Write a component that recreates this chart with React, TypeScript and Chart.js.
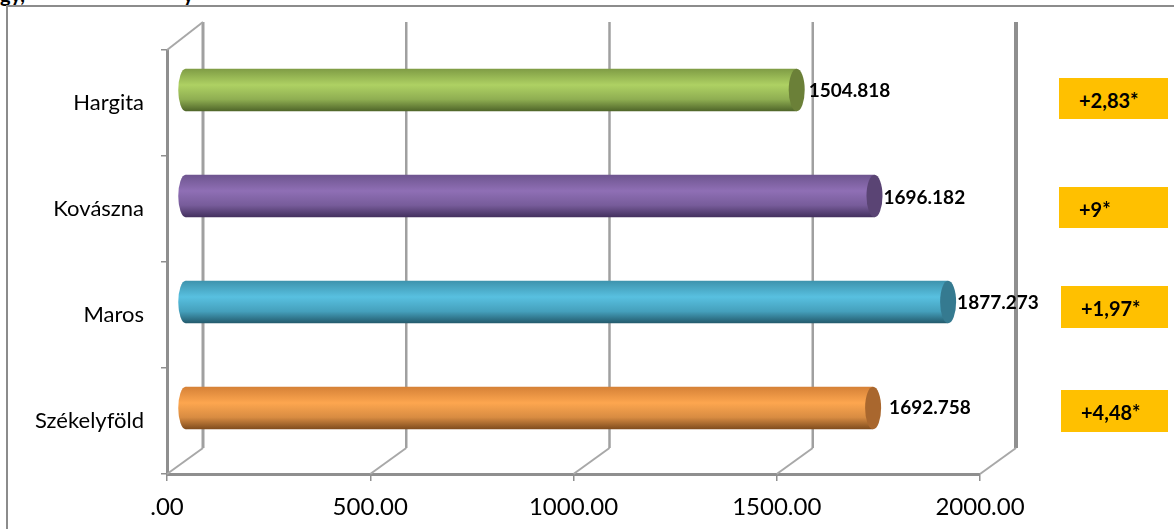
import React, { useEffect, useRef } from "react";
import { Chart, registerables } from "chart.js";

Chart.register(...registerables);

const categories = ["Hargita", "Kovászna", "Maros", "Székelyföld"];
const values = [1504.818, 1696.182, 1877.273, 1692.758];
const changes = ["+2,83*", "+9*", "+1,97*", "+4,48*"];
const axisTicks = [0, 500, 1000, 1500, 2000];

const gradients = [
  ["#7f9c45", "#aed163", "#8fae52", "#4f6529"],
  ["#6e558f", "#8f6fb5", "#775c9a", "#43305e"],
  ["#3e93ad", "#58c0e0", "#45a0bc", "#235a6c"],
  ["#d58137", "#fda64f", "#d88c42", "#7f4c1d"],
];
const capColors = ["#6b8038", "#5a4474", "#357a90", "#a9672e"];

const FONT = "Lato, 'Open Sans', sans-serif";
const DEPTH_X = 36;
const DEPTH_Y = 26;
const BAR_DX = 18;
const BAR_DY = 13;
const labelOffsets = [
  { x: 4, y: 1 },
  { x: 1, y: 2 },
  { x: 1, y: 1 },
  { x: 8, y: 0 },
];
const boxStyles = [
  { left: 1059, top: 78, width: 109, height: 41, pad: 20 },
  { left: 1059, top: 187, width: 109, height: 41, pad: 20 },
  { left: 1061, top: 286, width: 107, height: 42, pad: 20 },
  { left: 1061, top: 390, width: 107, height: 42, pad: 20 },
];

function barGradient(c: CanvasRenderingContext2D, yc: number, h: number, i: number) {
  const g = c.createLinearGradient(0, yc - h / 2, 0, yc + h / 2);
  const s = gradients[i];
  g.addColorStop(0, s[0]);
  g.addColorStop(0.38, s[1]);
  g.addColorStop(0.72, s[2]);
  g.addColorStop(1, s[3]);
  return g;
}

const walls = {
  id: "walls",
  beforeDatasetsDraw(chart: any) {
    const { ctx, chartArea, scales } = chart;
    const { top, bottom } = chartArea;
    ctx.save();
    axisTicks.forEach((t, i) => {
      const x = scales.x.getPixelForValue(t);
      const last = i === axisTicks.length - 1;
      ctx.strokeStyle = last ? "#8f8f8f" : "#a0a0a0";
      ctx.lineWidth = last ? 4 : i === 0 ? 3 : 2.5;
      ctx.beginPath();
      ctx.moveTo(x + DEPTH_X, top - DEPTH_Y - 2);
      ctx.lineTo(x + DEPTH_X, bottom - DEPTH_Y);
      ctx.stroke();
      ctx.strokeStyle = "#a8a8a8";
      ctx.lineWidth = 2;
      ctx.beginPath();
      ctx.moveTo(x, bottom);
      ctx.lineTo(x + DEPTH_X, bottom - DEPTH_Y);
      ctx.stroke();
    });
    const x0 = scales.x.getPixelForValue(0);
    ctx.strokeStyle = "#a8a8a8";
    ctx.lineWidth = 2;
    ctx.beginPath();
    ctx.moveTo(x0, top);
    ctx.lineTo(x0 + DEPTH_X, top - DEPTH_Y - 2);
    ctx.stroke();
    ctx.restore();

    ctx.save();
    ctx.translate(BAR_DX, BAR_DY * -1);
    chart.getDatasetMeta(0).data.forEach((bar: any, i: number) => {
      ctx.fillStyle = barGradient(ctx, bar.y, bar.height, i);
      ctx.beginPath();
      ctx.ellipse(bar.base, bar.y, 7.5, bar.height / 2, 0, 0, Math.PI * 2);
      ctx.fill();
    });
  },
  afterDatasetsDraw(chart: any) {
    const { ctx } = chart;
    const bars = chart.getDatasetMeta(0).data;
    bars.forEach((bar: any, i: number) => {
      ctx.fillStyle = capColors[i];
      ctx.beginPath();
      ctx.ellipse(bar.x, bar.y, 8, bar.height / 2, 0, 0, Math.PI * 2);
      ctx.fill();
    });
    ctx.restore();
    ctx.save();
    ctx.fillStyle = "#000";
    ctx.font = `bold 19px ${FONT}`;
    ctx.textBaseline = "middle";
    ctx.textAlign = "left";
    bars.forEach((bar: any, i: number) => {
      const text = values[i].toFixed(3);
      ctx.fillText(text, bar.x + BAR_DX + 8 + labelOffsets[i].x, bar.y - BAR_DY + labelOffsets[i].y);
    });
    ctx.restore();
  },
};

export default function App() {
  const ref = useRef<HTMLCanvasElement>(null);
  useEffect(() => {
    const chart = new Chart(ref.current!, {
      type: "bar",
      plugins: [walls],
      data: {
        labels: categories,
        datasets: [
          {
            data: values,
            barPercentage: 0.4,
            categoryPercentage: 1,
            clip: false,
            borderWidth: 0,
            backgroundColor: (c: any) => {
              const area = c.chart.chartArea;
              if (c.dataIndex === undefined || !area) return "#888";
              const y = c.chart.scales.y.getPixelForValue(c.dataIndex);
              const band = (area.bottom - area.top) / categories.length;
              return barGradient(c.chart.ctx, y, band * 0.4, c.dataIndex);
            },
          } as any,
        ],
      },
      options: {
        indexAxis: "y",
        animation: false,
        responsive: false,
        events: [],
        devicePixelRatio: 1,
        layout: { padding: { left: 0, right: 194, top: 50, bottom: 0 } },
        plugins: { legend: { display: false }, tooltip: { enabled: false }, title: { display: false } },
        scales: {
          x: {
            min: 0,
            max: 2000,
            afterFit: (s: any) => {
              s.height = 55;
            },
            afterBuildTicks: (s: any) => {
              s.ticks = axisTicks.map((value) => ({ value }));
            },
            border: { color: "#8f8f8f", width: 3 },
            grid: { drawOnChartArea: false, drawTicks: true, tickLength: 7, color: "#8f8f8f", lineWidth: 1.5 },
            ticks: {
              color: "#000",
              padding: 12,
              maxRotation: 0,
              font: { family: FONT, size: 24 },
              callback: (v: any) => (Number(v) === 0 ? ".00" : Number(v).toFixed(2)),
            },
          },
          y: {
            afterFit: (s: any) => {
              s.width = 167;
            },
            border: { color: "#8f8f8f", width: 3 },
            grid: { drawOnChartArea: false, drawTicks: true, tickLength: 6, color: "#8f8f8f", lineWidth: 1.5 },
            ticks: {
              color: "#000",
              padding: 17,
              font: { family: FONT, size: 22 },
            },
          },
        },
      },
    } as any);
    return () => chart.destroy();
  }, []);

  return (
    <div style={{ position: "fixed", left: 0, top: 0, width: 1174, height: 529, overflow: "hidden", background: "#fff" }}>
      <div style={{ position: "absolute", left: 0, top: -16, font: `bold 20px/20px ${FONT}`, color: "#000" }}>gy,</div>
      <div style={{ position: "absolute", left: 183, top: -16, font: `bold 20px/20px ${FONT}`, color: "#000" }}>y</div>
      <div style={{ position: "absolute", left: 6, top: 5, width: 1300, height: 700, border: "2px solid #8c8c8c" }} />
      <canvas ref={ref} width={1174} height={529} style={{ position: "absolute", left: 0, top: 0, display: "block" }} />
      {boxStyles.map((b, i) => (
        <div
          key={categories[i]}
          style={{
            position: "absolute",
            left: b.left,
            top: b.top,
            width: b.width - b.pad,
            height: b.height,
            paddingLeft: b.pad,
            background: "#FFC000",
            color: "#000",
            font: `bold 20px/${b.height + 3}px ${FONT}`,
          }}
        >
          {changes[i]}
        </div>
      ))}
    </div>
  );
}
